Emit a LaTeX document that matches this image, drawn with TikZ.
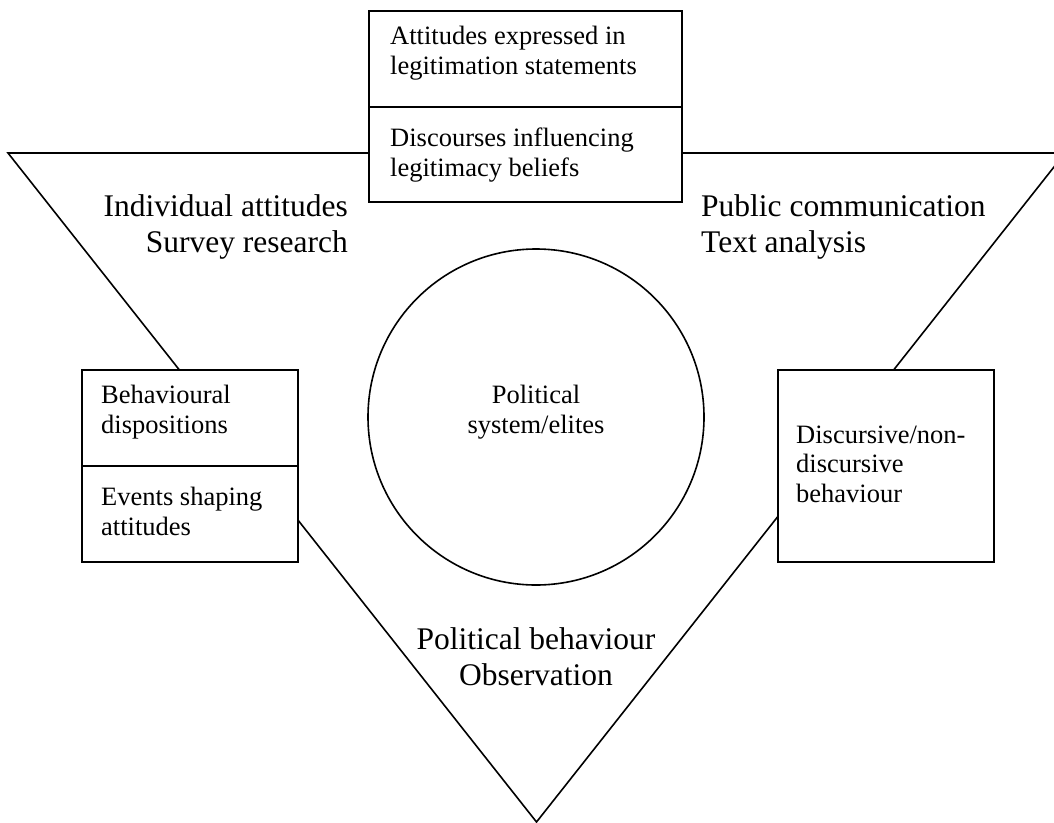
\documentclass[tikz,border=0pt]{standalone}
\usepackage{fontspec}
\setmainfont{Liberation Serif}
\tikzset{
  sect/.style={draw, line width=1.8pt, fill=white, inner sep=0pt, anchor=north west},
  smalltxt/.style={inner sep=0pt, font=\fontsize{26.5}{29.5}\selectfont},
  bigtxt/.style={inner sep=0pt, font=\fontsize{31.5}{36}\selectfont},
  tri/.style={line width=1.6pt, line join=miter},
}
\begin{document}
\begin{tikzpicture}[x=1pt,y=-1pt]
\useasboundingbox (0,0) rectangle (1054,822);
\clip (0,0) rectangle (1054,822);
\fill[white] (0,0) rectangle (1054,822);
% triangle
\coordinate (TL) at (8,153);
\coordinate (TR) at (1065,153);
\coordinate (BV) at (536.5,822);
\draw[tri] (TL) -- (TR) -- (BV) -- cycle;
% top box
\node[sect, minimum width=313pt, minimum height=96pt] (topA) at (368,10) {};
\node[sect, minimum width=313pt, minimum height=95pt] (topB) at (368,106) {};
\node[smalltxt, align=left, anchor=base west] (topAt) at (390,74) {Attitudes expressed in\\legitimation statements};
\node[smalltxt, align=left, anchor=base west] (topBt) at (390,176) {Discourses influencing\\legitimacy beliefs};
% left box
\node[sect, minimum width=216pt, minimum height=96pt] (leftA) at (81,369) {};
\node[sect, minimum width=216pt, minimum height=96pt] (leftB) at (81,465) {};
\node[smalltxt, align=left, anchor=base west] (leftAt) at (101,433) {Behavioural\\dispositions};
\node[smalltxt, align=left, anchor=base west] (leftBt) at (101,535) {Events shaping\\attitudes};
% right box
\node[sect, minimum width=216pt, minimum height=192pt] (rightA) at (777,369) {};
\node[smalltxt, align=left, anchor=base west] (rightAt) at (796,502) {Discursive/non-\\discursive\\behaviour};
% circle
\node[draw, circle, line width=1.6pt, minimum size=336pt, inner sep=0pt] (sys) at (536,417) {};
\node[smalltxt, align=center, anchor=base] (syst) at (536,433) {Political\\system/elites};
% big labels
\node[bigtxt, align=right, anchor=base east] (indiv) at (348,252) {Individual attitudes\\Survey research};
\node[bigtxt, align=left, anchor=base west] (publ) at (701,252) {Public communication\\Text analysis};
\node[bigtxt, align=center, anchor=base] (polb) at (536,685) {Political behaviour\\Observation};
\end{tikzpicture}
\end{document}
